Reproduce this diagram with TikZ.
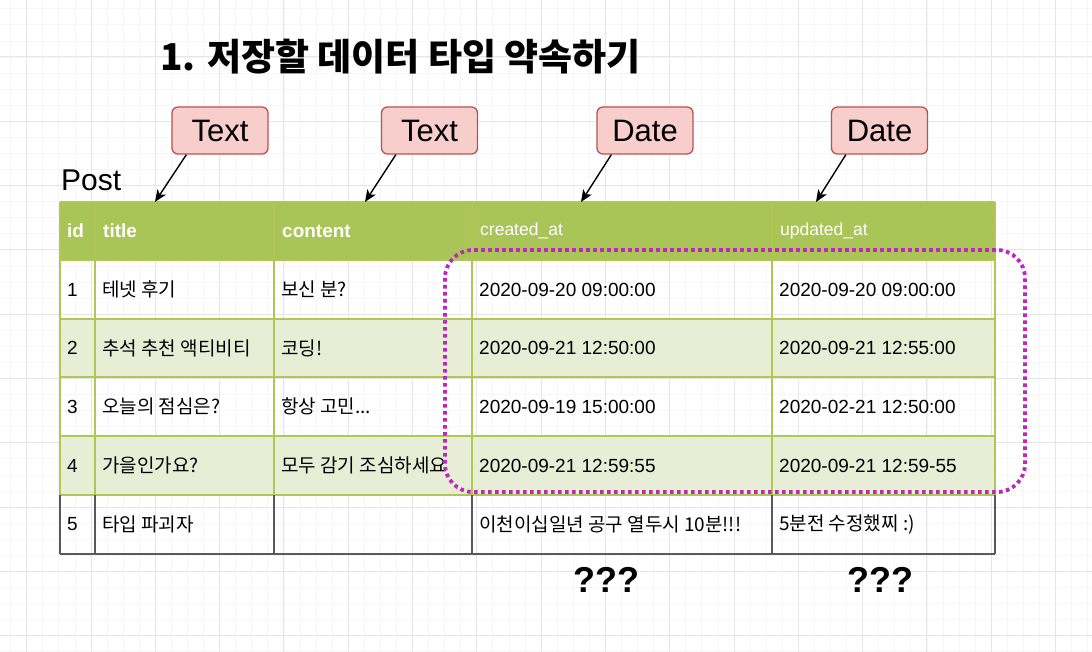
\documentclass[tikz,border=0pt]{standalone}
\usepackage{fontspec}
\setmainfont{Liberation Sans}
\newfontfamily\kr{Noto Sans CJK KR}
\usetikzlibrary{arrows.meta}
\newcommand{\fsz}[1]{\fontsize{#1}{#1}\selectfont}
\definecolor{hdgreen}{RGB}{169,196,87}
\definecolor{rowgreen}{RGB}{231,238,213}
\definecolor{cellline}{RGB}{176,199,84}
\definecolor{tagfill}{RGB}{248,206,204}
\definecolor{tagline}{RGB}{184,84,80}
\definecolor{dotpurple}{RGB}{190,38,190}
\definecolor{gridmajor}{RGB}{230,230,230}
\definecolor{gridminor}{RGB}{246,246,246}
\begin{document}
\begin{tikzpicture}[x=1pt,y=-1pt,line join=round,
		tag/.style={draw=tagline,fill=tagfill,line width=1.3pt,rounded corners=6pt,minimum width=96pt,minimum height=47pt,inner sep=0pt,font=\fsz{31}},
		cell/.style={anchor=west,inner sep=0pt,font=\fsz{19}},
		krcell/.style={cell,font=\kr\fsz{19}},
		head/.style={cell,text=white,font=\fsz{17.5}},
		arr/.style={-{Stealth[length=12pt,width=10pt,inset=3pt]},line width=1.4pt},
		gline/.style={draw=cellline,line width=1.3pt},
		kline/.style={draw=black!65,line width=1.3pt},
		dotbox/.style={draw=dotpurple,line width=3.8pt,dash pattern=on 3.6pt off 3.4pt,rounded corners=28pt}]
	\useasboundingbox (0,0) rectangle (1092,652);
	\fill[white] (0,0) rectangle (1092,652);
	%Lưới nền
	\foreach \m in {-1,...,66} \draw[gridminor,line width=.8pt] ({26.7+16.075*\m},0)--++(0,652);
	\foreach \m in {1,...,41} \draw[gridminor,line width=.8pt] (0,{-7.3+16.075*\m})--++(1092,0);
	\foreach \k in {0,...,16} \draw[gridmajor,line width=1pt] ({26.7+64.3*\k},0)--++(0,652);
	\foreach \k in {1,...,10} \draw[gridmajor,line width=1pt] (0,{-7.3+64.3*\k})--++(1092,0);
	%Tiêu đề
	\node[anchor=west,inner sep=0pt,font=\kr\bfseries\fsz{37}] (title) at (160,57) {1. 저장할 데이터 타입 약속하기};
	\node[anchor=west,inner sep=0pt,font=\fsz{30}] (post) at (61,180) {Post};
	%Bảng
	\fill[hdgreen] (60,202) rectangle (995,260);
	\fill[rowgreen] (60,319) rectangle (995,377);
	\fill[rowgreen] (60,436) rectangle (995,495);
	\foreach \y in {202,260,319,377,436,495} \draw[gline] (60,\y)--(995,\y);
	\foreach \x in {60,95,274,472,772,995} {
		\draw[gline] (\x,202)--(\x,495);
		\draw[kline] (\x,495)--(\x,554);
	}
	\draw[kline,line width=1.7pt] (60,554)--(995,554);
	\node[head,font=\bfseries\fsz{19}] (hid) at (67,231) {id};
	\node[head,font=\bfseries\fsz{19}] (htitle) at (103,231) {title};
	\node[head,font=\bfseries\fsz{19}] (hcontent) at (282,231) {content};
	\node[head] (hcreated) at (480,231) {created\_at};
	\node[head] (hupdated) at (780,231) {updated\_at};
	\foreach \r/\y/\ti/\co/\cr/\up in {
		1/289.5/테넷 후기/보신 분?/2020-09-20 09:00:00/2020-09-20 09:00:00,
		2/348/추석 추천 액티비티/코딩!/2020-09-21 12:50:00/2020-09-21 12:55:00,
		3/406.5/오늘의 점심은?/{항상 고민.{}.{}.}/2020-09-19 15:00:00/2020-02-21 12:50:00,
		4/465.5/가을인가요?/모두 감기 조심하세요/2020-09-21 12:59:55/2020-09-21 12:59-55} {
		\node[cell] (id\r) at (67,\y) {\r};
		\node[krcell] (ti\r) at (102,\y) {\ti};
		\node[krcell] (co\r) at (281,\y) {\co};
		\node[cell] (cr\r) at (479,\y) {\cr};
		\node[cell] (up\r) at (779,\y) {\up};
	}
	\node[cell] (id5) at (67,524.5) {5};
	\node[krcell] (ti5) at (102,524.5) {타입 파괴자};
	\node[krcell] (cr5) at (479,524.5) {이천이십일년 공구 열두시 10분!!!};
	\node[krcell] (up5) at (779,524.5) {5분전 수정했찌 :)};
	%Khung chấm
	\draw[dotbox] (445,250) rectangle (1025,492);
	%Nhãn kiểu
	\node[tag] (tag1) at (220,130.5) {Text};
	\node[tag] (tag2) at (429.5,130.5) {Text};
	\node[tag] (tag3) at (645,130.5) {Date};
	\node[tag] (tag4) at (879.5,130.5) {Date};
	\path (155,202) coordinate (a1) (365,202) coordinate (a2)
		(581,202) coordinate (a3) (816,202) coordinate (a4);
	\foreach \i in {1,...,4} \draw[arr] ([xshift=15pt]tag\i.south west)--(a\i);
	%Dấu hỏi
	\node[font=\bfseries\fsz{36}] (q1) at (606,580) {???};
	\node[font=\bfseries\fsz{36}] (q2) at (880,580) {???};
\end{tikzpicture}
\end{document}
